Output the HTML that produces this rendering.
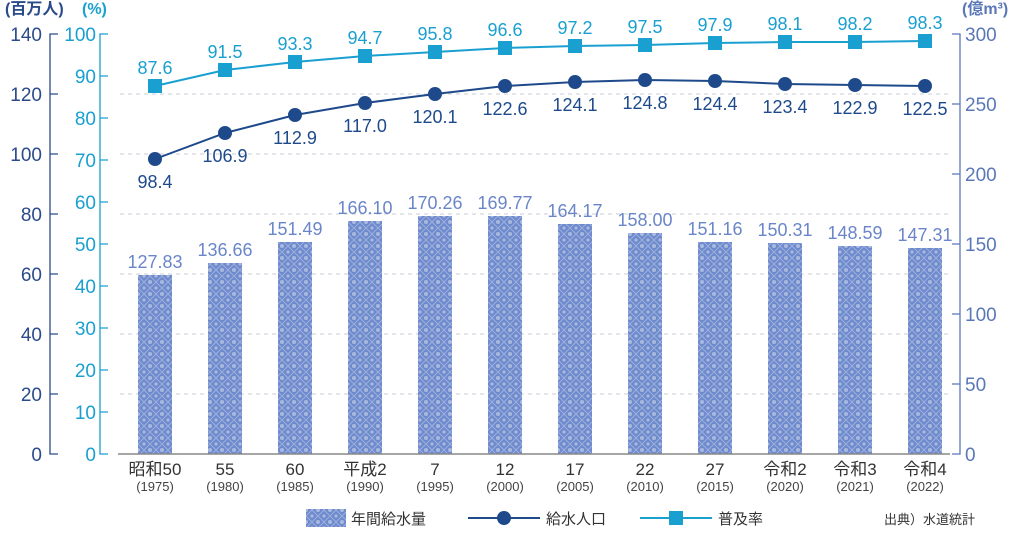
<!DOCTYPE html>
<html><head><meta charset="utf-8"><style>
body{margin:0;background:#fff}
svg{display:block;font-family:"Liberation Sans","Noto Sans CJK JP",sans-serif}
</style></head><body>
<svg width="1010" height="540" viewBox="0 0 1010 540">
<defs>
<pattern id="p" width="12" height="12" patternUnits="userSpaceOnUse">
<rect width="12" height="12" fill="#6f8bcd"/>
<path d="M0 6L6 0L12 6L6 12Z" fill="none" stroke="#a5b7e2" stroke-width="0.8"/>
<circle cx="6" cy="6" r="2" fill="#a9badf"/>
<circle cx="0" cy="0" r="1.6" fill="#a9badf"/><circle cx="12" cy="0" r="1.6" fill="#a9badf"/><circle cx="0" cy="12" r="1.6" fill="#a9badf"/><circle cx="12" cy="12" r="1.6" fill="#a9badf"/>
</pattern>
</defs>
<g stroke="#c8cdd8" stroke-dasharray="4,4" stroke-width="1">
<line x1="120" y1="94" x2="950" y2="94"/><line x1="120" y1="154" x2="950" y2="154"/><line x1="120" y1="214" x2="950" y2="214"/><line x1="120" y1="274" x2="950" y2="274"/><line x1="120" y1="334" x2="950" y2="334"/><line x1="120" y1="394" x2="950" y2="394"/>
</g>
<text x="5" y="14" font-size="16" fill="#2a4a8a" font-weight="bold">(百万人)</text>
<text x="82" y="14" font-size="16" fill="#1aa0d0" font-weight="bold">(%)</text>
<g stroke="#2a4a8a" stroke-width="1.3" fill="none"><path d="M58 34H50V454H58"/><path d="M50 94H58M50 154H58M50 214H58M50 274H58M50 334H58M50 394H58"/></g>
<g font-size="19" fill="#2a4a8a" text-anchor="end">
<text x="42" y="41">140</text><text x="42" y="101">120</text><text x="42" y="161">100</text><text x="42" y="221">80</text><text x="42" y="281">60</text><text x="42" y="341">40</text><text x="42" y="401">20</text><text x="42" y="461">0</text></g>
<g stroke="#1aa0d0" stroke-width="1.3" fill="none"><path d="M108 34H100V454H108"/><path d="M100 76H108M100 118H108M100 160H108M100 202H108M100 244H108M100 286H108M100 328H108M100 370H108M100 412H108"/></g>
<g font-size="19" fill="#1aa0d0" text-anchor="end">
<text x="96" y="41">100</text><text x="96" y="83">90</text><text x="96" y="125">80</text><text x="96" y="167">70</text><text x="96" y="209">60</text><text x="96" y="251">50</text><text x="96" y="293">40</text><text x="96" y="335">30</text><text x="96" y="377">20</text><text x="96" y="419">10</text><text x="96" y="461">0</text></g>
<text x="962" y="14" font-size="16" fill="#5a78b8" font-weight="bold">(億m³)</text>
<g stroke="#5a78b8" stroke-width="1.3" fill="none"><path d="M952 34H960V454H952"/><path d="M952 104H960M952 174H960M952 244H960M952 314H960M952 384H960"/></g>
<g font-size="19" fill="#5a78b8">
<text x="965" y="41">300</text><text x="965" y="111">250</text><text x="965" y="181">200</text><text x="965" y="251">150</text><text x="965" y="321">100</text><text x="965" y="391">50</text><text x="965" y="461">0</text></g>
<g fill="url(#p)">
<rect x="138" y="275" width="34" height="179"/><rect x="208" y="263" width="34" height="191"/><rect x="278" y="242" width="34" height="212"/><rect x="348" y="221" width="34" height="233"/><rect x="418" y="216" width="34" height="238"/><rect x="488" y="216" width="34" height="238"/><rect x="558" y="224" width="34" height="230"/><rect x="628" y="233" width="34" height="221"/><rect x="698" y="242" width="34" height="212"/><rect x="768" y="243" width="34" height="211"/><rect x="838" y="246" width="34" height="208"/><rect x="908" y="248" width="34" height="206"/></g>
<g font-size="18" fill="#6a86c9" text-anchor="middle">
<text x="155" y="268">127.83</text><text x="225" y="256">136.66</text><text x="295" y="235">151.49</text><text x="365" y="214">166.10</text><text x="435" y="209">170.26</text><text x="505" y="209">169.77</text><text x="575" y="217">164.17</text><text x="645" y="226">158.00</text><text x="715" y="235">151.16</text><text x="785" y="236">150.31</text><text x="855" y="239">148.59</text><text x="925" y="241">147.31</text></g>
<line x1="118" y1="454" x2="950" y2="454" stroke="#888" stroke-width="1.5"/>
<polyline fill="none" stroke="#1aa0d0" stroke-width="2" points="155,86 225,70 295,62 365,56 435,52 505,48 575,46 645,45 715,43 785,42 855,42 925,41"/>
<g fill="#1aa0d0"><rect x="148" y="79" width="14" height="14"/><rect x="218" y="63" width="14" height="14"/><rect x="288" y="55" width="14" height="14"/><rect x="358" y="49" width="14" height="14"/><rect x="428" y="45" width="14" height="14"/><rect x="498" y="41" width="14" height="14"/><rect x="568" y="39" width="14" height="14"/><rect x="638" y="38" width="14" height="14"/><rect x="708" y="36" width="14" height="14"/><rect x="778" y="35" width="14" height="14"/><rect x="848" y="35" width="14" height="14"/><rect x="918" y="34" width="14" height="14"/></g>
<g font-size="18" fill="#1aa0d0" text-anchor="middle">
<text x="155" y="74">87.6</text><text x="225" y="58">91.5</text><text x="295" y="50">93.3</text><text x="365" y="44">94.7</text><text x="435" y="40">95.8</text><text x="505" y="36">96.6</text><text x="575" y="34">97.2</text><text x="645" y="33">97.5</text><text x="715" y="31">97.9</text><text x="785" y="30">98.1</text><text x="855" y="30">98.2</text><text x="925" y="29">98.3</text></g>
<polyline fill="none" stroke="#1e4a8c" stroke-width="2" points="155,159 225,133 295,115 365,103 435,94 505,86 575,82 645,80 715,81 785,84 855,85 925,86"/>
<g fill="#1e4a8c"><circle cx="155" cy="159" r="7"/><circle cx="225" cy="133" r="7"/><circle cx="295" cy="115" r="7"/><circle cx="365" cy="103" r="7"/><circle cx="435" cy="94" r="7"/><circle cx="505" cy="86" r="7"/><circle cx="575" cy="82" r="7"/><circle cx="645" cy="80" r="7"/><circle cx="715" cy="81" r="7"/><circle cx="785" cy="84" r="7"/><circle cx="855" cy="85" r="7"/><circle cx="925" cy="86" r="7"/></g>
<g font-size="18" fill="#1e4a8c" text-anchor="middle">
<text x="155" y="188">98.4</text><text x="225" y="162">106.9</text><text x="295" y="144">112.9</text><text x="365" y="132">117.0</text><text x="435" y="123">120.1</text><text x="505" y="115">122.6</text><text x="575" y="111">124.1</text><text x="645" y="109">124.8</text><text x="715" y="110">124.4</text><text x="785" y="113">123.4</text><text x="855" y="114">122.9</text><text x="925" y="115">122.5</text></g>
<g font-size="17" fill="#333" text-anchor="middle">
<text x="155" y="475">昭和50</text><text x="225" y="475">55</text><text x="295" y="475">60</text><text x="365" y="475">平成2</text><text x="435" y="475">7</text><text x="505" y="475">12</text><text x="575" y="475">17</text><text x="645" y="475">22</text><text x="715" y="475">27</text><text x="785" y="475">令和2</text><text x="855" y="475">令和3</text><text x="925" y="475">令和4</text></g>
<g font-size="13" fill="#444" text-anchor="middle">
<text x="155" y="491">(1975)</text><text x="225" y="491">(1980)</text><text x="295" y="491">(1985)</text><text x="365" y="491">(1990)</text><text x="435" y="491">(1995)</text><text x="505" y="491">(2000)</text><text x="575" y="491">(2005)</text><text x="645" y="491">(2010)</text><text x="715" y="491">(2015)</text><text x="785" y="491">(2020)</text><text x="855" y="491">(2021)</text><text x="925" y="491">(2022)</text></g>
<rect x="306" y="509" width="40" height="18" fill="url(#p)"/>
<text x="351" y="524" font-size="15" fill="#333">年間給水量</text>
<line x1="468" y1="518" x2="540" y2="518" stroke="#1e4a8c" stroke-width="2"/><circle cx="504" cy="518" r="7" fill="#1e4a8c"/>
<text x="546" y="524" font-size="15" fill="#333">給水人口</text>
<line x1="640" y1="518" x2="712" y2="518" stroke="#1aa0d0" stroke-width="2"/><rect x="669" y="511" width="14" height="14" fill="#1aa0d0"/>
<text x="718" y="524" font-size="15" fill="#333">普及率</text>
<text x="884" y="524" font-size="13" fill="#333">出典）水道統計</text>
</svg>
</body></html>
